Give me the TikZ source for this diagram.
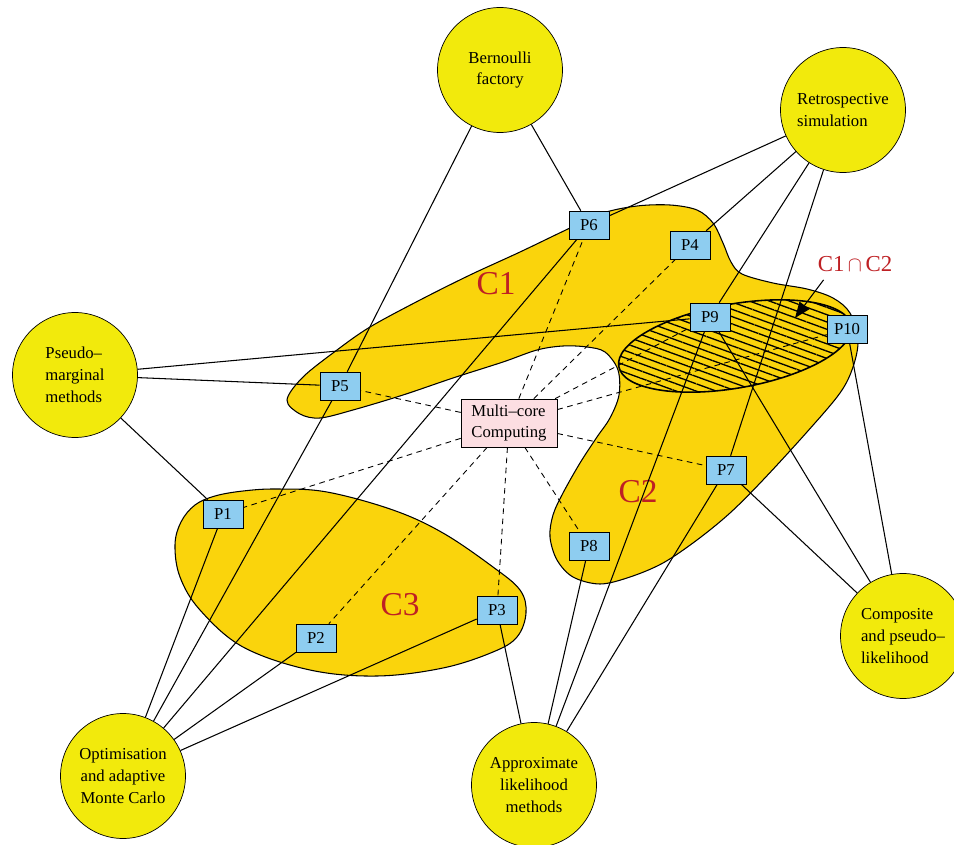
\documentclass[tikz,border=0pt]{standalone}
\usepackage{fontspec}
\setmainfont{Liberation Serif}
\usepackage{tikz}
\usetikzlibrary{positioning, arrows.meta, patterns.meta}
\definecolor{themefill}{RGB}{242,234,12}
\definecolor{groupfill}{RGB}{250,212,12}
\definecolor{projfill}{RGB}{142,205,240}
\definecolor{hubfill}{RGB}{252,222,226}
\definecolor{grouplab}{RGB}{190,32,36}

\begin{document}
\begin{tikzpicture}
    [x=0.02cm, y=-0.02cm,
      font=\fontsize{9.5}{12.5}\selectfont,
      theme/.style={circle, draw, fill=themefill, minimum size=2.5cm, inner sep=0pt},
      proj/.style={draw, fill=projfill, minimum width=0.8cm, minimum height=0.56cm, inner sep=0pt},
      hub/.style={draw, fill=hubfill, minimum width=1.92cm, minimum height=0.96cm, align=left, inner sep=2pt},
      link/.style={line width=0.6pt},
      mclink/.style={line width=0.5pt, dash pattern=on 3.2pt off 2.6pt},
      grouptext/.style={text=grouplab, font=\fontsize{19}{19}\selectfont}]

    \clip (0,0) rectangle (954,845);

    % groups C1, C2 (one outline) and C3
    \draw[fill=groupfill, line width=0.6pt] plot[smooth cycle, tension=0.55] coordinates {
      (287,400) (303,377) (337,350) (370,327) (420,300) (470,275) (520,252)
      (570,228) (603,213) (637,206) (670,205) (697,210) (713,223) (723,243)
      (731,262) (742,274) (773,283) (807,289) (833,298) (850,313) (858,340)
      (853,367) (840,393) (807,432) (763,480) (730,513) (697,540) (663,563)
      (630,577) (600,584) (573,577) (557,560) (550,537) (553,515) (563,493)
      (580,463) (597,437) (610,418) (619,395) (618,370) (605,352) (587,347)
      (563,346) (537,350) (503,362) (453,378) (403,395) (353,410) (320,418)
      (300,414)};
    \draw[fill=groupfill, line width=0.6pt] plot[smooth cycle, tension=0.6] coordinates {
      (175,545) (181,522) (195,505) (215,496) (243,491) (277,489) (327,492)
      (393,510) (443,533) (493,567) (520,590) (526,613) (517,637) (493,652)
      (443,668) (377,676) (310,670) (243,647) (200,610) (180,577)};

    % C1 and C2 overlap
    \draw[line width=0.9pt, fill=groupfill,
      postaction={pattern={Lines[angle=-20, distance=3.9pt, line width=0.75pt]}}]
      [shift={(735,346)}, rotate=10] (0,0) ellipse [x radius=118, y radius=42];

    \node[grouptext] (c1-lab) at (496,284) {C1};
    \node[grouptext] (c2-lab) at (638,492) {C2};
    \node[grouptext] (c3-lab) at (400,605) {C3};
    \node[text=grouplab, font=\fontsize{13}{13}\selectfont] (c12-lab) at (855,264) {C1$\,\cap\,$C2};
    \coordinate (c12-tip) at (795,318);
    \draw[line width=0.6pt, -{Triangle[length=9pt, width=7pt]}] (c12-lab.south west) ++(12,2) -- (c12-tip);

    % themes
    \node[theme, align=center] (bernoulli) at (500,70) {Bernoulli\\factory};
    \node[theme, align=left] (retro) at (843,110) {Retrospective\\simulation};
    \node[theme, align=left] (pseudo) at (75,375) {Pseudo–\\marginal\\methods};
    \node[theme, align=left] (composite) at (903,636) {Composite\\and pseudo–\\likelihood};
    \node[theme, align=center] (optim) at (123,776) {Optimisation\\and adaptive\\Monte Carlo};
    \node[theme, align=center] (approx) at (534,785) {Approximate\\likelihood\\methods};

    % projects
    \node[proj] (p1) at (223,514) {P1};
    \node[proj] (p2) at (316,638) {P2};
    \node[proj] (p3) at (497,610) {P3};
    \node[proj] (p4) at (690,245) {P4};
    \node[proj] (p5) at (340,386) {P5};
    \node[proj] (p6) at (589,225) {P6};
    \node[proj] (p7) at (726,470) {P7};
    \node[proj] (p8) at (589,546) {P8};
    \node[proj] (p9) at (710,317) {P9};
    \node[proj] (p10) at (847,329) {P10};

    \node[hub] (multicore) at (509,423) {Multi–core\\Computing};

    % project to theme
    \draw[link] (bernoulli) -- (p5) (bernoulli) -- (p6);
    \draw[link] (retro) -- (p6) (retro) -- (p4) (retro) -- (p9) (retro) -- (p7);
    \draw[link] (pseudo) -- (p9) (pseudo) -- (p5) (pseudo) -- (p1);
    \draw[link] (composite) -- (p7) (composite) -- (p9) (composite) -- (p10);
    \draw[link] (optim) -- (p1) (optim) -- (p5) (optim) -- (p6) (optim) -- (p2) (optim) -- (p3);
    \draw[link] (approx) -- (p3) (approx) -- (p8) (approx) -- (p9) (approx) -- (p7);

    % project to multi-core
    \draw[mclink] (multicore) -- (p1) (multicore) -- (p2) (multicore) -- (p3)
      (multicore) -- (p4) (multicore) -- (p5) (multicore) -- (p6) (multicore) -- (p7)
      (multicore) -- (p8) (multicore) -- (p9) (multicore) -- (p10);
  \end{tikzpicture}
\end{document}
